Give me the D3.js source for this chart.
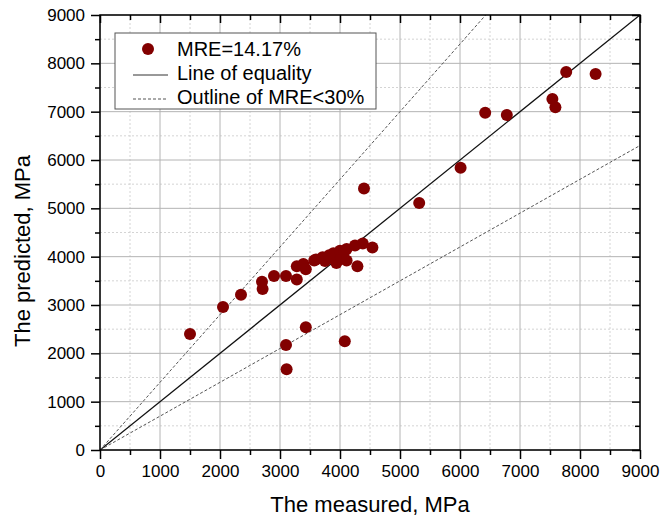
<!DOCTYPE html>
<html>
<head>
<meta charset="utf-8">
<script src="https://cdn.jsdelivr.net/npm/d3@7"></script>
<style>
  body { margin: 0; background: #fff; }
  svg { font-family: "Liberation Sans", Arial, sans-serif; }
</style>
</head>
<body>
<div id="chart"></div>
<script>
// measured vs predicted strength, MPa
const measured  = [1500, 2050, 2350, 2700, 2710, 2900, 3100, 3280, 3280, 3390, 3430, 3570, 3600, 3710, 3750,
                   3820, 3860, 3890, 3940, 4000, 4020, 4070, 4110, 4110, 4250, 4380, 4540, 4290, 3430, 4080,
                   3100, 3110, 4400, 5320, 6010, 6420, 6780, 7540, 7590, 7770, 8260];
const predicted = [2400, 2960, 3210, 3480, 3330, 3600, 3600, 3530, 3800, 3850, 3740, 3920, 3940, 3990, 3910,
                   4030, 3970, 4070, 3870, 4120, 3960, 4100, 4160, 3920, 4230, 4270, 4190, 3800, 2540, 2250,
                   2170, 1670, 5410, 5110, 5840, 6980, 6930, 7260, 7090, 7820, 7780];
const majorTicks = [0, 1000, 2000, 3000, 4000, 5000, 6000, 7000, 8000, 9000];
const minorTicks = [500, 1500, 2500, 3500, 4500, 5500, 6500, 7500, 8500];
const upperSlope = 1.4;   // outline of MRE<30%
const lowerSlope = 0.7;
const legendLabels = ["MRE=14.17%", "Line of equality", "Outline of MRE<30%"];

const W = 663, H = 523;
const pL = 100, pR = 640, pT = 15, pB = 450;

const svg = d3.select("#chart").append("svg")
    .attr("width", W).attr("height", H);

const x = d3.scaleLinear().domain([0, 9000]).range([pL, pR]);
const y = d3.scaleLinear().domain([0, 9000]).range([pB, pT]);

// grid
const grid = svg.append("g");
grid.selectAll(".minx").data(minorTicks).enter().append("line")
    .attr("x1", d => x(d)).attr("x2", d => x(d)).attr("y1", pT).attr("y2", pB)
    .attr("stroke", "#d4d4d4").attr("stroke-dasharray", "2,2");
grid.selectAll(".miny").data(minorTicks).enter().append("line")
    .attr("y1", d => y(d)).attr("y2", d => y(d)).attr("x1", pL).attr("x2", pR)
    .attr("stroke", "#d4d4d4").attr("stroke-dasharray", "2,2");
grid.selectAll(".majx").data(majorTicks).enter().append("line")
    .attr("x1", d => x(d)).attr("x2", d => x(d)).attr("y1", pT).attr("y2", pB)
    .attr("stroke", "#b4b4b4");
grid.selectAll(".majy").data(majorTicks).enter().append("line")
    .attr("y1", d => y(d)).attr("y2", d => y(d)).attr("x1", pL).attr("x2", pR)
    .attr("stroke", "#b4b4b4");

// reference lines
svg.append("clipPath").attr("id", "clip").append("rect")
    .attr("x", pL).attr("y", pT).attr("width", pR - pL).attr("height", pB - pT);
const lines = svg.append("g").attr("clip-path", "url(#clip)");
lines.append("line")
    .attr("x1", x(0)).attr("y1", y(0)).attr("x2", x(9000)).attr("y2", y(9000))
    .attr("stroke", "#111").attr("stroke-width", 1.3);
lines.append("line")
    .attr("x1", x(0)).attr("y1", y(0)).attr("x2", x(9000 / upperSlope)).attr("y2", y(9000))
    .attr("stroke", "#555").attr("stroke-dasharray", "3,2");
lines.append("line")
    .attr("x1", x(0)).attr("y1", y(0)).attr("x2", x(9000)).attr("y2", y(9000 * lowerSlope))
    .attr("stroke", "#555").attr("stroke-dasharray", "3,2");

// points
svg.append("g").selectAll("circle")
    .data(measured.map((m, i) => [m, predicted[i]]))
    .enter().append("circle")
    .attr("cx", d => x(d[0])).attr("cy", d => y(d[1])).attr("r", 6)
    .attr("fill", "#820000");

// axes
function styleAxis(g) {
    g.select(".domain").remove();
    g.selectAll(".tick line").attr("stroke", "#000").attr("stroke-width", 1.5);
    g.selectAll(".tick text").attr("font-size", 17).attr("fill", "#000")
        .attr("font-family", "Liberation Sans, Arial, sans-serif");
}
svg.append("g").attr("transform", `translate(0,${pB})`)
    .call(d3.axisBottom(x).tickValues(majorTicks).tickSize(9).tickPadding(6).tickFormat(d3.format("d")))
    .call(styleAxis);
svg.append("g").attr("transform", `translate(0,${pB})`)
    .call(d3.axisBottom(x).tickValues(minorTicks).tickSize(5).tickFormat(""))
    .call(styleAxis);
svg.append("g").attr("transform", `translate(${pL},0)`)
    .call(d3.axisLeft(y).tickValues(majorTicks).tickSize(9).tickPadding(6).tickFormat(d3.format("d")))
    .call(styleAxis);
svg.append("g").attr("transform", `translate(${pL},0)`)
    .call(d3.axisLeft(y).tickValues(minorTicks).tickSize(5).tickFormat(""))
    .call(styleAxis);
svg.append("g").attr("transform", `translate(0,${pT})`)
    .call(d3.axisTop(x).tickValues(majorTicks).tickSize(-8).tickFormat(""))
    .call(styleAxis);
svg.append("g").attr("transform", `translate(0,${pT})`)
    .call(d3.axisTop(x).tickValues(minorTicks).tickSize(-5).tickFormat(""))
    .call(styleAxis);
svg.append("g").attr("transform", `translate(${pR},0)`)
    .call(d3.axisRight(y).tickValues(majorTicks).tickSize(-8).tickFormat(""))
    .call(styleAxis);
svg.append("g").attr("transform", `translate(${pR},0)`)
    .call(d3.axisRight(y).tickValues(minorTicks).tickSize(-5).tickFormat(""))
    .call(styleAxis);

svg.append("rect")
    .attr("x", pL).attr("y", pT).attr("width", pR - pL).attr("height", pB - pT)
    .attr("fill", "none").attr("stroke", "#000").attr("stroke-width", 1.5);

// axis titles
svg.append("text")
    .attr("x", (pL + pR) / 2).attr("y", 512)
    .attr("text-anchor", "middle").attr("font-size", 22)
    .text("The measured, MPa");
svg.append("text")
    .attr("transform", "translate(30,251) rotate(-90)")
    .attr("text-anchor", "middle").attr("font-size", 22)
    .text("The predicted, MPa");

// legend
const lg = svg.append("g");
lg.append("rect")
    .attr("x", 115).attr("y", 33).attr("width", 261).attr("height", 76)
    .attr("fill", "#fff").attr("stroke", "#555").attr("stroke-width", 1);
lg.append("circle").attr("cx", 148).attr("cy", 49).attr("r", 6).attr("fill", "#820000");
lg.append("line").attr("x1", 133).attr("x2", 168).attr("y1", 75).attr("y2", 75)
    .attr("stroke", "#333").attr("stroke-width", 1);
lg.append("line").attr("x1", 133).attr("x2", 168).attr("y1", 99).attr("y2", 99)
    .attr("stroke", "#555").attr("stroke-dasharray", "3,2");
lg.selectAll(".lt").data(legendLabels).enter().append("text")
    .attr("x", 177).attr("y", (d, i) => [56, 80, 104][i])
    .attr("font-size", 20).text(d => d);
</script>
</body>
</html>
